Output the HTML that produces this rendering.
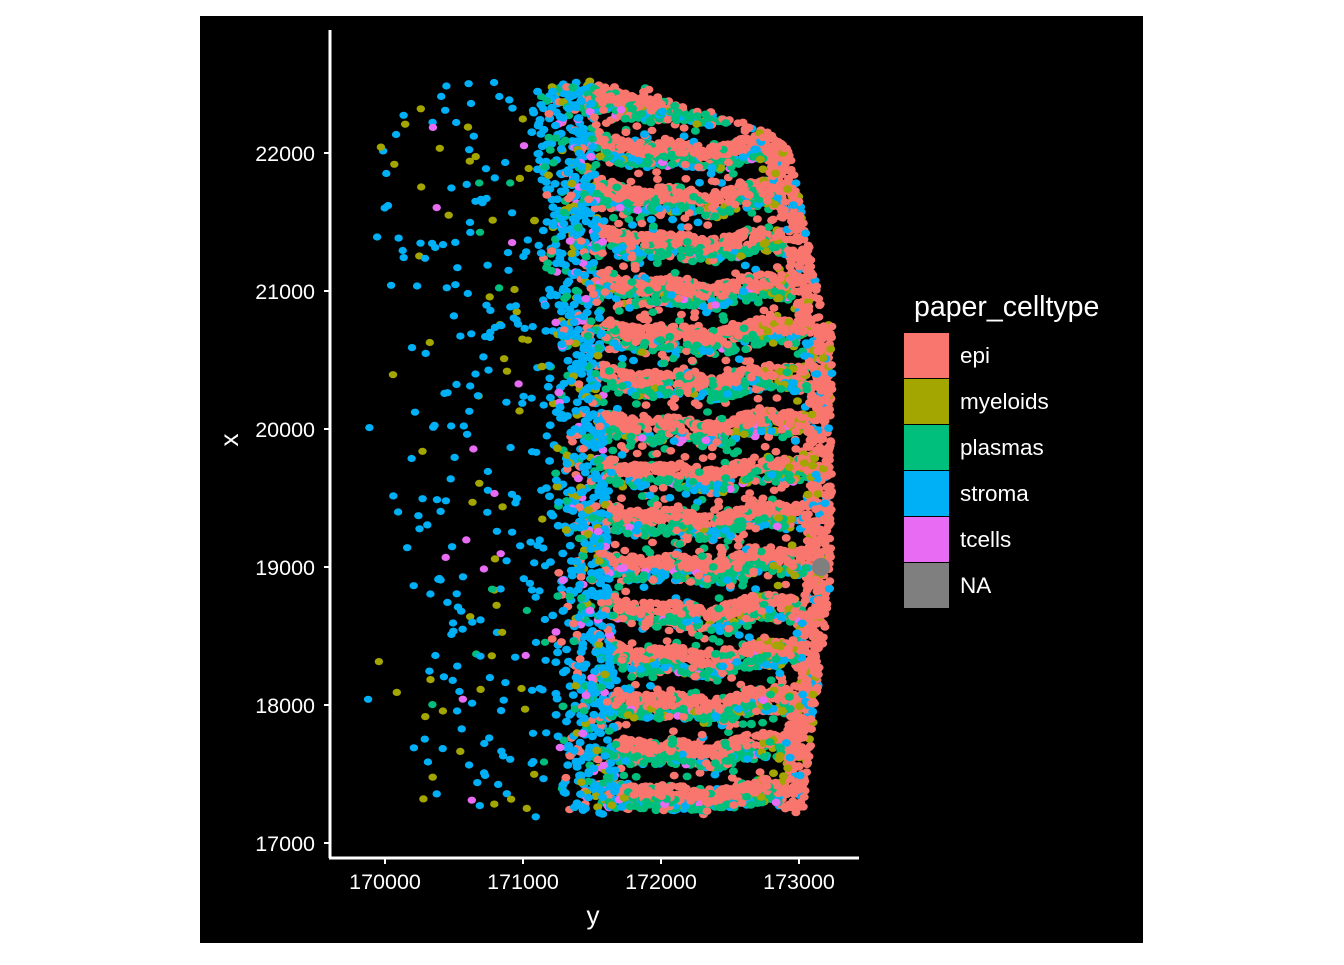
<!DOCTYPE html><html><head><meta charset="utf-8"><style>
body{margin:0;background:#fff;width:1344px;height:960px;overflow:hidden;font-family:"Liberation Sans",sans-serif}
</style></head><body>
<svg width="1344" height="960" xmlns="http://www.w3.org/2000/svg" font-family="Liberation Sans, sans-serif">
<rect x="0" y="0" width="1344" height="960" fill="#fff"/>
<rect x="200" y="16" width="943" height="927" fill="#000"/>
<g id="pts"></g>
<circle cx="821" cy="567" r="9" fill="#7F7F7F"/>
<line x1="330" y1="30" x2="330" y2="858" stroke="#fff" stroke-width="3"/>
<line x1="329" y1="858" x2="859" y2="858" stroke="#fff" stroke-width="3"/>
<g stroke="#fff" stroke-width="2">
<line x1="324" y1="153" x2="330" y2="153"/><line x1="324" y1="291" x2="330" y2="291"/><line x1="324" y1="429" x2="330" y2="429"/><line x1="324" y1="567" x2="330" y2="567"/><line x1="324" y1="705" x2="330" y2="705"/><line x1="324" y1="843" x2="330" y2="843"/>
<line x1="385" y1="858" x2="385" y2="864"/><line x1="523" y1="858" x2="523" y2="864"/><line x1="661" y1="858" x2="661" y2="864"/><line x1="799" y1="858" x2="799" y2="864"/>
</g>
<g fill="#fff" font-size="21.5" text-anchor="end">
<text x="315" y="161">22000</text><text x="315" y="299">21000</text><text x="315" y="437">20000</text><text x="315" y="575">19000</text><text x="315" y="713">18000</text><text x="315" y="851">17000</text>
</g>
<g fill="#fff" font-size="21.5" text-anchor="middle">
<text x="385" y="889">170000</text><text x="523" y="889">171000</text><text x="661" y="889">172000</text><text x="799" y="889">173000</text>
<text x="593" y="924" font-size="26">y</text>
</g>
<text x="238" y="440" fill="#fff" font-size="26" text-anchor="middle" transform="rotate(-90 238 440)">x</text>
<text x="914" y="316" fill="#fff" font-size="28.5">paper_celltype</text>
<g>
<rect x="904" y="333" width="45" height="45" fill="#F8766D"/>
<rect x="904" y="379" width="45" height="45" fill="#A3A500"/>
<rect x="904" y="425" width="45" height="45" fill="#00BF7D"/>
<rect x="904" y="471" width="45" height="45" fill="#00B0F6"/>
<rect x="904" y="517" width="45" height="45" fill="#E76BF3"/>
<rect x="904" y="563" width="45" height="45" fill="#7F7F7F"/>
</g>
<g fill="#fff" font-size="22.5">
<text x="960" y="363">epi</text><text x="960" y="409">myeloids</text><text x="960" y="455">plasmas</text><text x="960" y="501">stroma</text><text x="960" y="547">tcells</text><text x="960" y="593">NA</text>
</g>
</svg>
<script>
(function(){
var a=987654321;function r(){a|=0;a=a+0x6D2B79F5|0;var t=Math.imul(a^a>>>15,1|a);t=t+Math.imul(t^t>>>7,61|t)^t;return((t^t>>>14)>>>0)/4294967296;}
var E="#F8766D",M="#A3A500",P="#00BF7D",S="#00B0F6",T="#E76BF3";
var out=[];
function dot(x,y,c,rr){out.push('<ellipse cx="'+x.toFixed(1)+'" cy="'+y.toFixed(1)+'" rx="'+rr.toFixed(1)+'" ry="'+(rr*0.85).toFixed(1)+'" fill="'+c+'"/>');}
function pick(q){var t=r(),acc=0;for(var i=0;i<q.length;i+=2){acc+=q[i+1];if(t<acc)return q[i];}return q[q.length-2];}
for(var i=0;i<300;i++){
 var x=352+Math.pow(r(),0.55)*195,y=80+r()*740;
 if(x<420&&r()<0.4)continue;
 var c=pick([S,0.7,M,0.2,T,0.05,P,0.05]);dot(x,y,c,4.2);
}
function left(y){return 543+(y-90)*0.035;}
function right(y){ if(y<150) return 700+(y-80)*1.3; if(y<320) return 790+(y-150)*0.2; if(y<570) return 832; return 832-(y-570)*0.12;}
function top(x){return (x<650?80:92+(x-650)*0.3)+ 12*r();}
for(var i=0;i<20000;i++){
 var y=75+r()*748,L=left(y)-15,x=L+r()*(right(y)-L);
 if(y<top(x))continue;
 if(y>815-8*r())continue;
 var c;
 if(x>right(y)-25){ if(r()<0.35)continue; c=pick([E,0.85,S,0.08,M,0.07]);}
 else if(x<left(y)+50){ var f=(x-L)/65; if(r()>f*0.55)continue; c=pick([S,0.62,P,0.15,E,0.1,M,0.06,T,0.07]);}
 else{
  var ph=((y+6*Math.sin(x/40)+3*Math.sin(x/13))%46+46)%46;
  if(ph<14) c=pick([E,0.9,P,0.1]);
  else if(ph<26){ if(r()<0.25)continue; c=pick([P,0.55,S,0.2,E,0.15,M,0.06,T,0.04]);}
  else { if(r()<0.93)continue; c=pick([E,0.5,P,0.3,S,0.2]);}
  if(x>760&&r()<0.15)c=M;
 }
 dot(x,y,c,4.5);
}
document.getElementById('pts').innerHTML=out.join('');
})();
</script>
</body></html>
